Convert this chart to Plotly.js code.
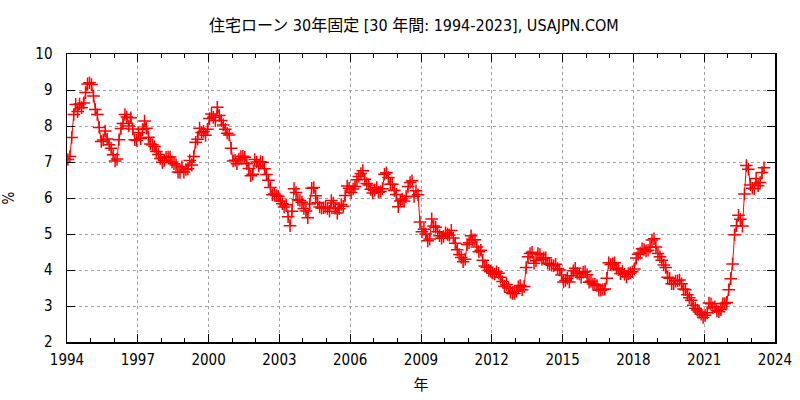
<!DOCTYPE html>
<html>
<head>
<meta charset="utf-8">
<script src="https://cdn.plot.ly/plotly-3.0.1.min.js"></script>
<style>html,body{margin:0;padding:0;background:#fff;}#chart{width:800px;height:400px;}</style>
</head>
<body>
<div id="chart"></div>
<script>
// Monthly 30-year fixed mortgage rates (%), Jan 1994 onward
const startYear = 1994;
const rates1994 = [7.07, 7.15, 7.68, 8.32, 8.60, 8.40, 8.61, 8.51, 8.64, 8.93, 9.17, 9.20];
const rates1995 = [9.15, 8.83, 8.46, 8.32, 7.96, 7.57, 7.61, 7.86, 7.64, 7.48, 7.38, 7.20];
const rates1996 = [7.03, 7.08, 7.62, 7.93, 8.07, 8.32, 8.25, 8.00, 8.23, 7.92, 7.62, 7.60];
const rates1997 = [7.82, 7.65, 7.90, 8.14, 7.94, 7.69, 7.50, 7.48, 7.43, 7.29, 7.21, 7.10];
const rates1998 = [6.99, 7.04, 7.13, 7.14, 7.14, 7.00, 6.95, 6.92, 6.72, 6.71, 6.87, 6.72];
const rates1999 = [6.79, 6.81, 7.04, 6.92, 7.15, 7.55, 7.63, 7.94, 7.82, 7.85, 7.74, 7.91];
const rates2000 = [8.21, 8.33, 8.24, 8.15, 8.52, 8.29, 8.15, 8.03, 7.91, 7.80, 7.75, 7.38];
const rates2001 = [7.03, 7.05, 6.95, 7.08, 7.15, 7.16, 7.13, 6.95, 6.82, 6.62, 6.66, 7.07];
const rates2002 = [7.00, 6.89, 7.01, 6.99, 6.81, 6.65, 6.49, 6.29, 6.09, 6.11, 6.07, 6.05];
const rates2003 = [5.92, 5.84, 5.75, 5.81, 5.48, 5.23, 5.63, 6.26, 6.15, 5.95, 5.93, 5.88];
const rates2004 = [5.71, 5.64, 5.45, 5.83, 6.27, 6.29, 6.06, 5.87, 5.75, 5.72, 5.73, 5.75];
const rates2005 = [5.71, 5.63, 5.93, 5.86, 5.72, 5.58, 5.70, 5.82, 5.77, 6.07, 6.33, 6.27];
const rates2006 = [6.15, 6.25, 6.32, 6.51, 6.60, 6.68, 6.76, 6.52, 6.40, 6.36, 6.24, 6.14];
const rates2007 = [6.22, 6.29, 6.16, 6.18, 6.26, 6.66, 6.70, 6.57, 6.38, 6.38, 6.21, 6.10];
const rates2008 = [5.76, 5.92, 5.97, 5.92, 6.04, 6.32, 6.43, 6.48, 6.04, 6.20, 6.09, 5.33];
const rates2009 = [5.06, 5.13, 5.00, 4.81, 4.86, 5.42, 5.22, 5.19, 5.06, 4.95, 4.88, 4.93];
const rates2010 = [5.03, 4.99, 4.97, 5.10, 4.89, 4.74, 4.56, 4.43, 4.35, 4.23, 4.30, 4.71];
const rates2011 = [4.76, 4.95, 4.84, 4.84, 4.64, 4.51, 4.55, 4.27, 4.11, 4.07, 3.99, 3.96];
const rates2012 = [3.92, 3.89, 3.95, 3.91, 3.80, 3.68, 3.55, 3.60, 3.50, 3.38, 3.35, 3.35];
const rates2013 = [3.41, 3.53, 3.57, 3.45, 3.54, 4.07, 4.37, 4.46, 4.49, 4.19, 4.26, 4.46];
const rates2014 = [4.43, 4.30, 4.34, 4.34, 4.19, 4.16, 4.13, 4.12, 4.16, 4.04, 4.00, 3.86];
const rates2015 = [3.67, 3.71, 3.77, 3.67, 3.84, 3.98, 4.05, 3.91, 3.89, 3.80, 3.94, 3.96];
const rates2016 = [3.87, 3.66, 3.69, 3.61, 3.60, 3.57, 3.44, 3.44, 3.46, 3.47, 3.77, 4.20];
const rates2017 = [4.15, 4.17, 4.20, 4.05, 4.01, 3.90, 3.97, 3.88, 3.81, 3.90, 3.92, 3.95];
const rates2018 = [4.03, 4.33, 4.44, 4.47, 4.59, 4.57, 4.53, 4.55, 4.63, 4.83, 4.87, 4.64];
const rates2019 = [4.46, 4.37, 4.27, 4.14, 4.07, 3.80, 3.77, 3.62, 3.61, 3.69, 3.70, 3.72];
const rates2020 = [3.62, 3.47, 3.45, 3.31, 3.23, 3.16, 3.02, 2.94, 2.89, 2.83, 2.77, 2.68];
const rates2021 = [2.74, 2.81, 3.08, 3.06, 2.96, 2.98, 2.87, 2.84, 2.90, 3.07, 3.07, 3.10];
const rates2022 = [3.45, 3.76, 4.17, 4.98, 5.23, 5.52, 5.41, 5.22, 6.11, 6.90, 6.80, 6.36];
const rates2023 = [6.27, 6.26, 6.54, 6.34, 6.43, 6.71, 6.84];

const yearly = [rates1994, rates1995, rates1996, rates1997, rates1998, rates1999, rates2000,
  rates2001, rates2002, rates2003, rates2004, rates2005, rates2006, rates2007, rates2008,
  rates2009, rates2010, rates2011, rates2012, rates2013, rates2014, rates2015, rates2016,
  rates2017, rates2018, rates2019, rates2020, rates2021, rates2022, rates2023];

const xTickVals = ['1994-01-01','1997-01-01','2000-01-01','2003-01-01','2006-01-01','2009-01-01',
  '2012-01-01','2015-01-01','2018-01-01','2021-01-01','2024-01-01'];
const xTickText = ['1994','1997','2000','2003','2006','2009','2012','2015','2018','2021','2024'];
const yTickVals = [2, 3, 4, 5, 6, 7, 8, 9, 10];

const dates = [], values = [];
yearly.forEach((arr, i) => {
  arr.forEach((v, m) => {
    const mm = String(m + 1).padStart(2, '0');
    dates.push((startYear + i) + '-' + mm + '-15');
    values.push(v);
  });
});

const font = '"DejaVu Sans Condensed", "Noto Sans CJK JP", sans-serif';

const trace = {
  x: dates, y: values, type: 'scatter', mode: 'lines+markers',
  line: {color: '#ff0000', width: 1},
  marker: {symbol: 'cross-thin-open', size: 9, color: '#ff0000', line: {color: '#ff0000', width: 1.5}},
  hoverinfo: 'x+y', showlegend: false
};

const layout = {
  width: 800, height: 400,
  margin: {l: 67, r: 25, t: 54, b: 58},
  paper_bgcolor: '#ffffff', plot_bgcolor: '#ffffff',
  font: {family: font, size: 15, color: '#000'},
  title: {text: '住宅ローン 30年固定 [30 年間: 1994-2023], USAJPN.COM', x: 0.49, xref: 'paper', xanchor: 'center',
          y: 1 - 25/400, yanchor: 'middle', yref: 'container', font: {family: font, size: 16, color: '#000'}},
  xaxis: {
    type: 'date', range: ['1994-01-01', '2024-01-01'],
    tickvals: xTickVals, ticktext: xTickText,
    ticks: 'inside', ticklen: 8, tickcolor: '#000', tickwidth: 1,
    showline: true, linecolor: '#000', linewidth: 1.5, mirror: 'ticks',
    showgrid: true, gridcolor: '#a0a0a0', griddash: 'dot', gridwidth: 1,
    zeroline: false,
    ticklabelstandoff: 3,
    minor: {dtick: 'M12', tick0: '1994-01-01', ticks: 'inside', ticklen: 4, tickcolor: '#000', showgrid: false},
    title: {text: '年', standoff: 12, font: {family: font, size: 15}},
    tickfont: {family: font, size: 15}
  },
  yaxis: {
    range: [2, 10], tickvals: yTickVals,
    ticks: 'inside', ticklen: 8, tickcolor: '#000', tickwidth: 1,
    showline: true, linecolor: '#000', linewidth: 1.5, mirror: 'ticks',
    showgrid: true, gridcolor: '#a0a0a0', griddash: 'dot', gridwidth: 1,
    zeroline: false,
    ticklabelstandoff: 10,
    title: {text: '%', standoff: 19, font: {family: font, size: 15}},
    tickfont: {family: font, size: 15}
  }
};

Plotly.newPlot('chart', [trace], layout, {staticPlot: true, displayModeBar: false});
</script>
</body>
</html>
